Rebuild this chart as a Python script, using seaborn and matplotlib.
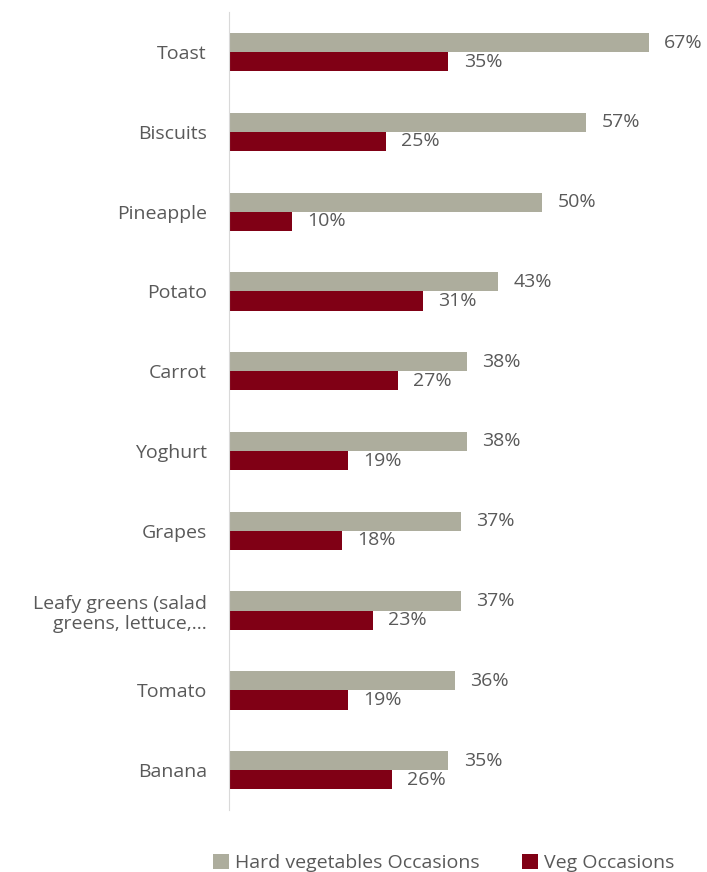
import pandas as pd
import matplotlib.pyplot as plt
import seaborn as sns

categories = ['Toast', 'Biscuits', 'Pineapple', 'Potato', 'Carrot', 'Yoghurt', 'Grapes',
              'Leafy greens (salad\ngreens, lettuce,...', 'Tomato', 'Banana']
hard_veg = [67, 57, 50, 43, 38, 38, 37, 37, 36, 35]
veg = [35, 25, 10, 31, 27, 19, 18, 23, 19, 26]
series = ['Hard vegetables Occasions', 'Veg Occasions']

df = pd.DataFrame({
    'Category': categories * 2,
    'Value': hard_veg + veg,
    'Series': [series[0]] * len(categories) + [series[1]] * len(categories),
})

sns.set_style('white')
plt.rcParams['font.family'] = ['Open Sans', 'DejaVu Sans']
txt = '#595959'
fs = 14

fig = plt.figure(figsize=(7.07, 8.72), dpi=100)
ax = fig.add_axes([0.324, 0.071, 0.66, 0.915])

sns.barplot(data=df, y='Category', x='Value', hue='Series', orient='h',
            palette=['#ADAD9D', '#800015'], saturation=1, width=0.48, gap=0,
            linewidth=0, ax=ax, legend=True)

for c in ax.containers:
    ax.bar_label(c, labels=[f'{v:.0f}%' for v in c.datavalues], padding=11,
                 fontsize=fs, color=txt)

ax.set_xlim(0, 74.5)
ax.set_ylim(9.5, -0.5)
ax.set_xlabel('')
ax.set_ylabel('')
ax.set_xticks([])
ax.tick_params(axis='y', length=0, pad=16, labelsize=fs, labelcolor=txt)
for lbl in ax.get_yticklabels():
    lbl.set_horizontalalignment('right')
for s in ['top', 'right', 'bottom']:
    ax.spines[s].set_visible(False)
ax.spines['left'].set_color('#D9D9D9')

ax.legend(loc='lower center', bbox_to_anchor=(0.46, -0.1), ncol=2, frameon=False,
          fontsize=fs, labelcolor=txt, handlelength=0.8, handleheight=0.8,
          handletextpad=0.3, columnspacing=2.2)

fig.savefig('out.png', dpi=100)
